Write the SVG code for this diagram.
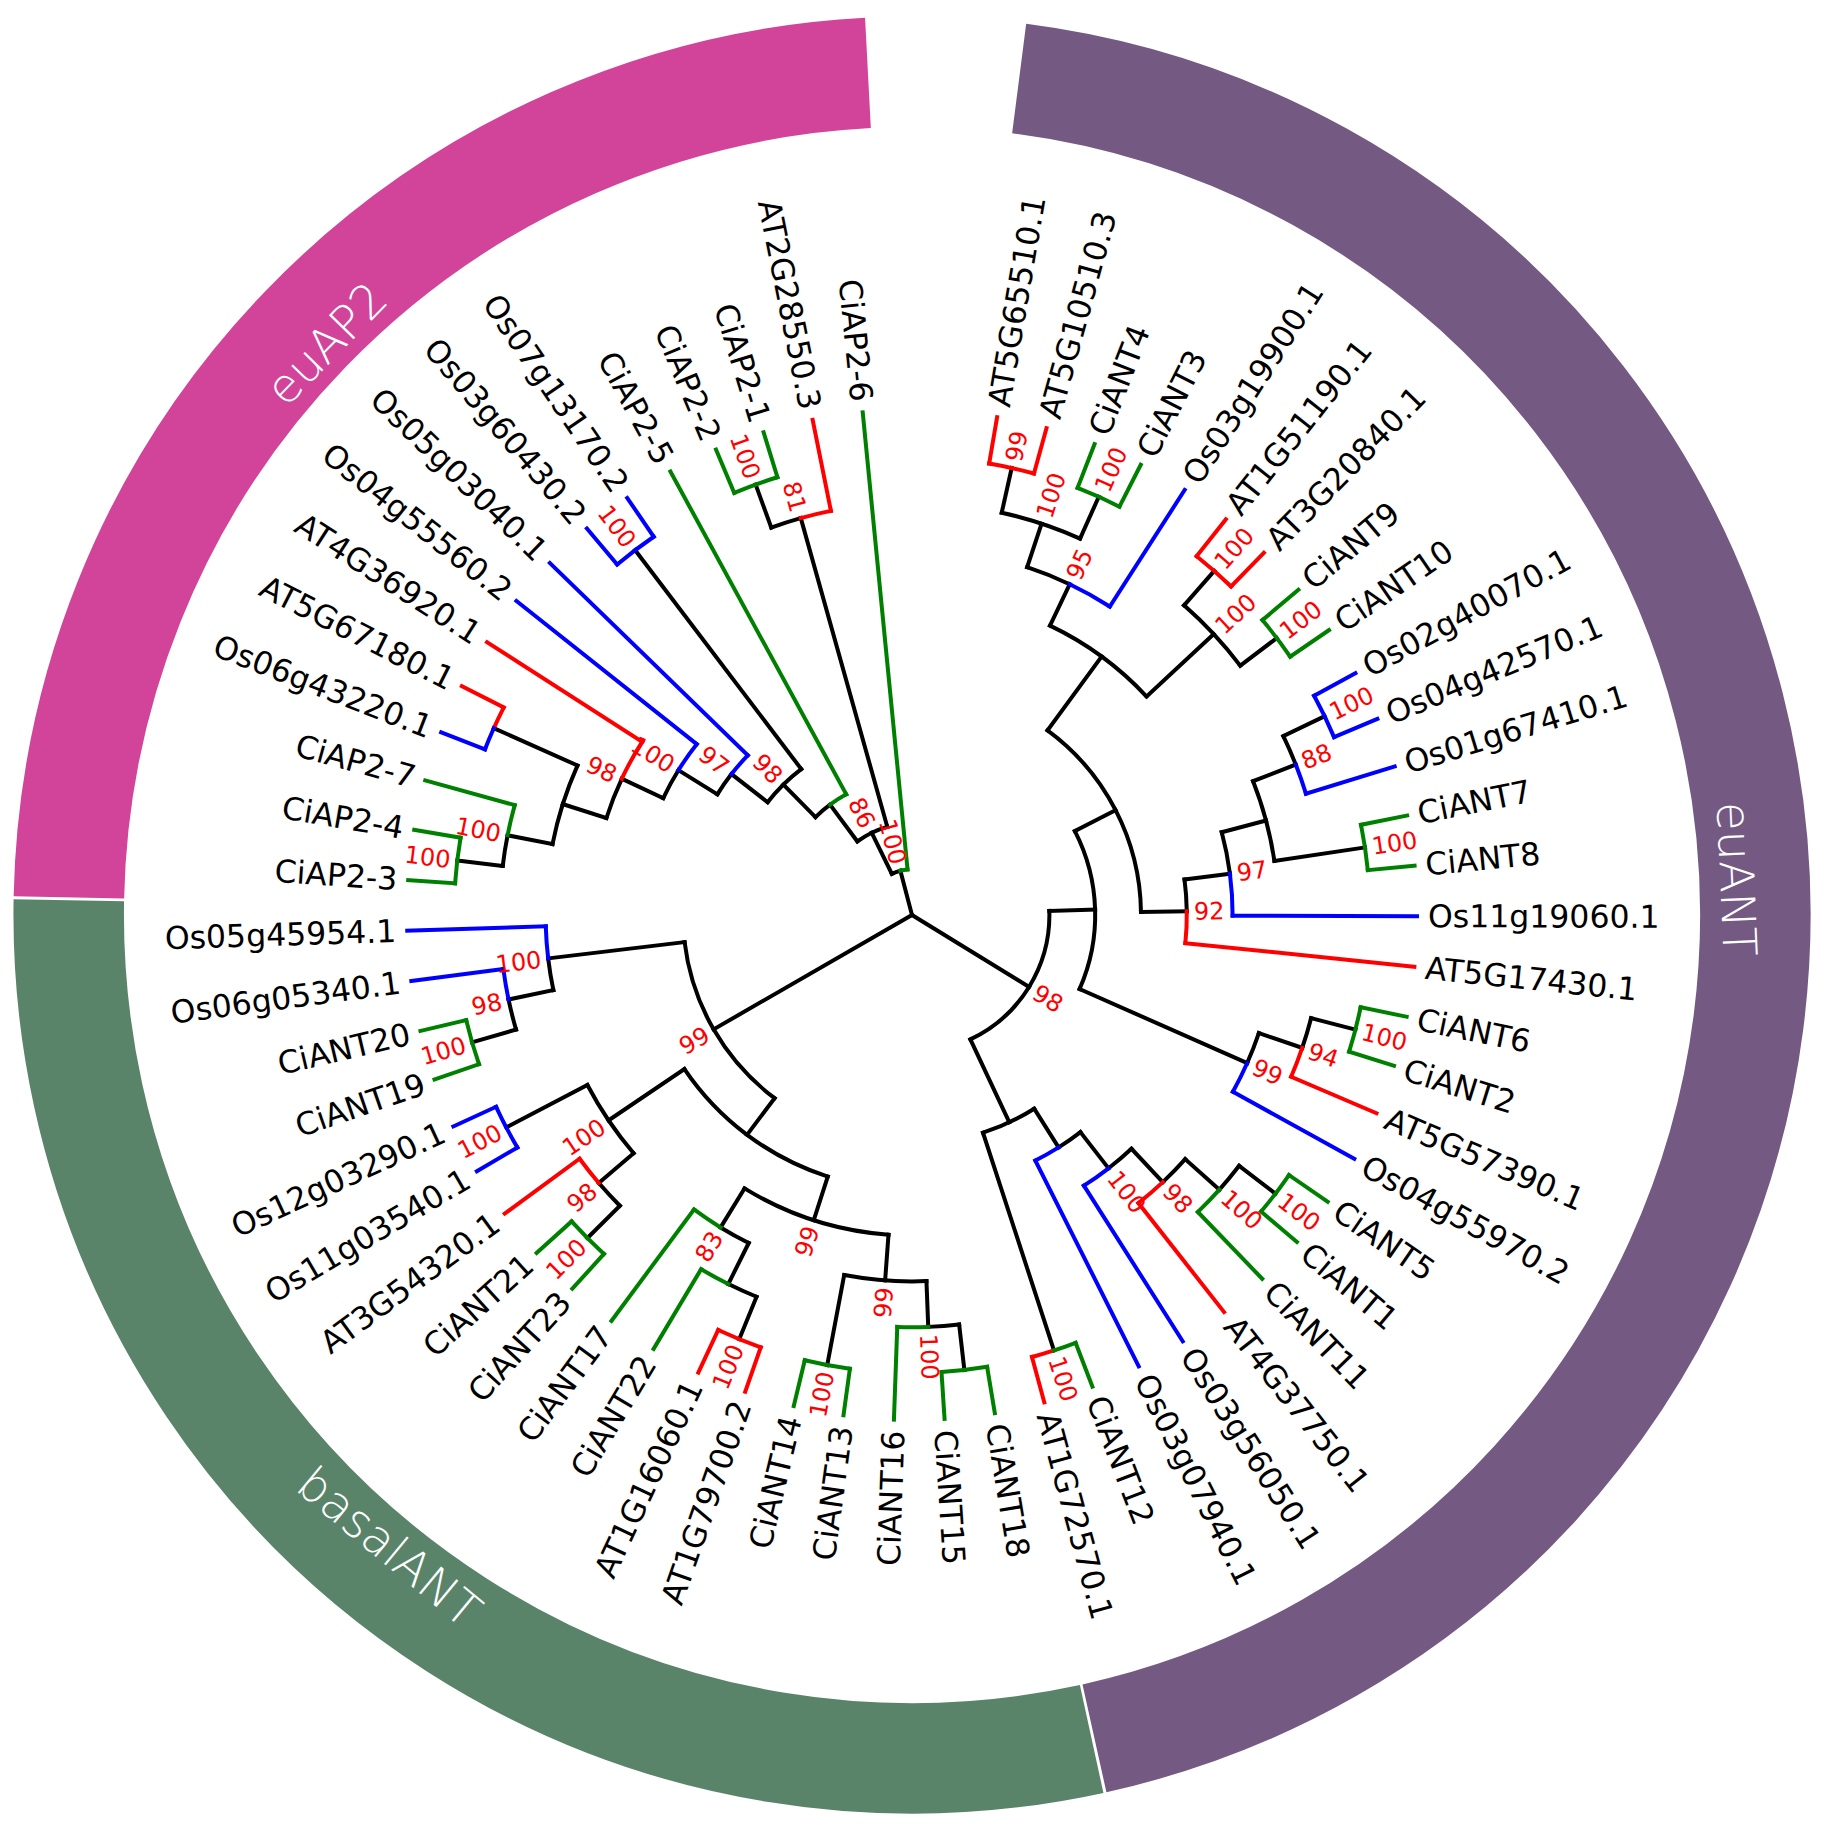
<svg xmlns="http://www.w3.org/2000/svg" width="1826" height="1825" viewBox="0 0 1826 1825">
<style>
.lab{font-family:"DejaVu Sans",Verdana,sans-serif;font-size:31.5px;fill:#000}
.bs{font-family:"DejaVu Sans",Verdana,sans-serif;font-size:24px;fill:#ff0000}
.cl{font-family:"DejaVu Sans",Verdana,sans-serif;font-size:47px;font-weight:200;fill:#ffffff}
.e{text-anchor:end}
#connectors circle,#connectors path{fill:none;stroke-width:4;stroke-linecap:square}
</style>
<rect width="1826" height="1825" fill="#ffffff"/>
<g transform="translate(912,915)">
<g id="clades" fill="none" stroke-width="110.5">
<circle id="ring-euANT" r="843.3" pathLength="360" stroke="#745A82" stroke-dasharray="160.2 720" transform="rotate(-82.7)"/>
<circle id="ring-basalANT" r="843.3" pathLength="360" stroke="#5A8469" stroke-dasharray="103.3 720" transform="rotate(77.7)"/>
<circle id="ring-euAP2" r="843.3" pathLength="360" stroke="#D2449A" stroke-dasharray="85.8 720" transform="rotate(181.2)"/>
</g>
<g id="clade-labels">
<text class="cl" transform="rotate(314.3)" y="-802" text-anchor="middle">euAP2</text>
<text class="cl" transform="rotate(87.5)" y="-809" text-anchor="middle">euANT</text>
<text class="cl" transform="rotate(39.6)" y="836.5" text-anchor="middle">basalANT</text>
</g>
<g id="connectors">
<g stroke="#000000">
<circle r="412.2" pathLength="360" stroke-dasharray="11.49 720" transform="rotate(-77.4275)"/>
<circle r="366.4" pathLength="360" stroke-dasharray="7.181 720" transform="rotate(-71.6825)"/>
<circle r="412.2" pathLength="360" stroke-dasharray="11.49 720" transform="rotate(-48.7025)"/>
<circle r="320.6" pathLength="360" stroke-dasharray="21.544 720" transform="rotate(-64.5013)"/>
<circle r="412.2" pathLength="360" stroke-dasharray="4.309 720" transform="rotate(-25.7225)"/>
<circle r="366.4" pathLength="360" stroke-dasharray="12.927 720" transform="rotate(-21.414)"/>
<circle r="320.6" pathLength="360" stroke-dasharray="7.54 720" transform="rotate(-14.9506)"/>
<circle r="274.8" pathLength="360" stroke-dasharray="6.643 720" transform="rotate(-7.4103)"/>
<circle r="229" pathLength="360" stroke-dasharray="52.962 720" transform="rotate(-53.7294)"/>
<circle r="412.2" pathLength="360" stroke-dasharray="4.309 720" transform="rotate(14.4925)"/>
<circle r="366.4" pathLength="360" stroke-dasharray="5.027 720" transform="rotate(18.801)"/>
<circle r="183.2" pathLength="360" stroke-dasharray="51.077 720" transform="rotate(-27.2485)"/>
<circle r="412.2" pathLength="360" stroke-dasharray="4.309 720" transform="rotate(37.4725)"/>
<circle r="366.4" pathLength="360" stroke-dasharray="5.027 720" transform="rotate(41.781)"/>
<circle r="320.6" pathLength="360" stroke-dasharray="5.386 720" transform="rotate(46.808)"/>
<circle r="274.8" pathLength="360" stroke-dasharray="5.566 720" transform="rotate(52.194)"/>
<circle r="229" pathLength="360" stroke-dasharray="14.183 720" transform="rotate(57.7595)"/>
<circle r="137.4" pathLength="360" stroke-dasharray="66.561 720" transform="rotate(-1.71)"/>
<circle r="412.2" pathLength="360" stroke-dasharray="4.309 720" transform="rotate(83.4325)"/>
<circle r="366.4" pathLength="360" stroke-dasharray="12.927 720" transform="rotate(87.741)"/>
<circle r="412.2" pathLength="360" stroke-dasharray="4.309 720" transform="rotate(112.1575)"/>
<circle r="366.4" pathLength="360" stroke-dasharray="5.027 720" transform="rotate(116.466)"/>
<circle r="320.6" pathLength="360" stroke-dasharray="27.289 720" transform="rotate(94.204)"/>
<circle r="412.2" pathLength="360" stroke-dasharray="4.309 720" transform="rotate(135.1375)"/>
<circle r="366.4" pathLength="360" stroke-dasharray="12.927 720" transform="rotate(139.446)"/>
<circle r="274.8" pathLength="360" stroke-dasharray="38.06 720" transform="rotate(107.849)"/>
<circle r="412.2" pathLength="360" stroke-dasharray="4.309 720" transform="rotate(163.8625)"/>
<circle r="366.4" pathLength="360" stroke-dasharray="5.027 720" transform="rotate(168.171)"/>
<circle r="229" pathLength="360" stroke-dasharray="46.319 720" transform="rotate(126.879)"/>
<circle r="412.2" pathLength="360" stroke-dasharray="4.309 720" transform="rotate(186.8425)"/>
<circle r="366.4" pathLength="360" stroke-dasharray="12.927 720" transform="rotate(191.151)"/>
<circle r="320.6" pathLength="360" stroke-dasharray="7.541 720" transform="rotate(197.614)"/>
<circle r="274.8" pathLength="360" stroke-dasharray="6.643 720" transform="rotate(205.155)"/>
<circle r="229" pathLength="360" stroke-dasharray="6.193 720" transform="rotate(211.798)"/>
<circle r="183.2" pathLength="360" stroke-dasharray="14.812 720" transform="rotate(217.991)"/>
<circle r="137.4" pathLength="360" stroke-dasharray="8.011 720" transform="rotate(225.397)"/>
<circle r="412.2" pathLength="360" stroke-dasharray="4.309 720" transform="rotate(250.0375)"/>
<circle r="91.6" pathLength="360" stroke-dasharray="20.938 720" transform="rotate(233.408)"/>
<circle r="45.8" pathLength="360" stroke-dasharray="11.411 720" transform="rotate(243.877)"/>
<path d="M412.2 0H458" transform="rotate(-77.4275)"/>
<path d="M412.2 0H458" transform="rotate(-65.9375)"/>
<path d="M366.4 0H412.2" transform="rotate(-71.6825)"/>
<path d="M412.2 0H458" transform="rotate(-48.7025)"/>
<path d="M412.2 0H458" transform="rotate(-37.2125)"/>
<path d="M320.6 0H366.4" transform="rotate(-64.5013)"/>
<path d="M320.6 0H412.2" transform="rotate(-42.9575)"/>
<path d="M412.2 0H458" transform="rotate(-25.7225)"/>
<path d="M366.4 0H412.2" transform="rotate(-21.414)"/>
<path d="M366.4 0H458" transform="rotate(-8.4875)"/>
<path d="M320.6 0H366.4" transform="rotate(-14.9506)"/>
<path d="M274.8 0H320.6" transform="rotate(-7.4103)"/>
<path d="M229 0H320.6" transform="rotate(-53.7294)"/>
<path d="M229 0H274.8" transform="rotate(-0.7676)"/>
<path d="M412.2 0H458" transform="rotate(14.4925)"/>
<path d="M366.4 0H412.2" transform="rotate(18.801)"/>
<path d="M183.2 0H229" transform="rotate(-27.2485)"/>
<path d="M183.2 0H366.4" transform="rotate(23.828)"/>
<path d="M412.2 0H458" transform="rotate(37.4725)"/>
<path d="M366.4 0H412.2" transform="rotate(41.781)"/>
<path d="M320.6 0H366.4" transform="rotate(46.808)"/>
<path d="M274.8 0H320.6" transform="rotate(52.194)"/>
<path d="M229 0H274.8" transform="rotate(57.7595)"/>
<path d="M229 0H458" transform="rotate(71.9425)"/>
<path d="M137.4 0H183.2" transform="rotate(-1.71)"/>
<path d="M137.4 0H229" transform="rotate(64.851)"/>
<path d="M0 0H137.4" transform="rotate(31.57)"/>
<path d="M412.2 0H458" transform="rotate(83.4325)"/>
<path d="M366.4 0H412.2" transform="rotate(87.741)"/>
<path d="M366.4 0H458" transform="rotate(100.6675)"/>
<path d="M412.2 0H458" transform="rotate(112.1575)"/>
<path d="M366.4 0H412.2" transform="rotate(116.466)"/>
<path d="M320.6 0H366.4" transform="rotate(94.204)"/>
<path d="M320.6 0H366.4" transform="rotate(121.493)"/>
<path d="M412.2 0H458" transform="rotate(135.1375)"/>
<path d="M366.4 0H412.2" transform="rotate(139.446)"/>
<path d="M366.4 0H458" transform="rotate(152.3725)"/>
<path d="M274.8 0H320.6" transform="rotate(107.849)"/>
<path d="M274.8 0H366.4" transform="rotate(145.909)"/>
<path d="M229 0H274.8" transform="rotate(126.879)"/>
<path d="M412.2 0H458" transform="rotate(163.8625)"/>
<path d="M366.4 0H412.2" transform="rotate(168.171)"/>
<path d="M229 0H366.4" transform="rotate(173.198)"/>
<path d="M0 0H229" transform="rotate(150.039)"/>
<path d="M412.2 0H458" transform="rotate(186.8425)"/>
<path d="M366.4 0H412.2" transform="rotate(191.151)"/>
<path d="M366.4 0H458" transform="rotate(204.0775)"/>
<path d="M320.6 0H366.4" transform="rotate(197.614)"/>
<path d="M274.8 0H320.6" transform="rotate(205.155)"/>
<path d="M229 0H274.8" transform="rotate(211.798)"/>
<path d="M183.2 0H229" transform="rotate(217.991)"/>
<path d="M183.2 0H458" transform="rotate(232.8025)"/>
<path d="M137.4 0H183.2" transform="rotate(225.397)"/>
<path d="M91.6 0H137.4" transform="rotate(233.408)"/>
<path d="M412.2 0H458" transform="rotate(250.0375)"/>
<path d="M91.6 0H412.2" transform="rotate(254.346)"/>
<path d="M45.8 0H91.6" transform="rotate(243.877)"/>
<path d="M0 0H45.8" transform="rotate(255.288)"/>
</g>
<g stroke="#ff0000">
<circle r="458" pathLength="360" stroke-dasharray="5.745 720" transform="rotate(-80.3)"/>
<circle r="458" pathLength="360" stroke-dasharray="5.745 720" transform="rotate(-51.575)"/>
<circle r="274.8" pathLength="360" stroke-dasharray="6.643 720" transform="rotate(-0.7676)"/>
<circle r="412.2" pathLength="360" stroke-dasharray="4.309 720" transform="rotate(18.801)"/>
<circle r="366.4" pathLength="360" stroke-dasharray="5.027 720" transform="rotate(46.808)"/>
<circle r="458" pathLength="360" stroke-dasharray="2.8725 720" transform="rotate(71.9425)"/>
<circle r="458" pathLength="360" stroke-dasharray="5.745 720" transform="rotate(109.285)"/>
<circle r="412.2" pathLength="360" stroke-dasharray="4.309 720" transform="rotate(139.446)"/>
<circle r="458" pathLength="360" stroke-dasharray="2.8725 720" transform="rotate(204.0775)"/>
<circle r="320.6" pathLength="360" stroke-dasharray="7.54 720" transform="rotate(205.155)"/>
<circle r="412.2" pathLength="360" stroke-dasharray="4.309 720" transform="rotate(254.346)"/>
<path d="M458 0H505" transform="rotate(-80.3)"/>
<path d="M458 0H505" transform="rotate(-74.555)"/>
<path d="M458 0H505" transform="rotate(-51.575)"/>
<path d="M458 0H505" transform="rotate(-45.83)"/>
<path d="M274.8 0H505" transform="rotate(5.875)"/>
<path d="M412.2 0H505" transform="rotate(23.11)"/>
<path d="M366.4 0H505" transform="rotate(51.835)"/>
<path d="M458 0H505" transform="rotate(74.815)"/>
<path d="M458 0H505" transform="rotate(109.285)"/>
<path d="M458 0H505" transform="rotate(115.03)"/>
<path d="M412.2 0H505" transform="rotate(143.755)"/>
<path d="M458 0H505" transform="rotate(206.95)"/>
<path d="M320.6 0H505" transform="rotate(212.695)"/>
<path d="M412.2 0H505" transform="rotate(258.655)"/>
</g>
<g stroke="#008000">
<circle r="458" pathLength="360" stroke-dasharray="5.745 720" transform="rotate(-68.81)"/>
<circle r="458" pathLength="360" stroke-dasharray="5.745 720" transform="rotate(-40.085)"/>
<circle r="458" pathLength="360" stroke-dasharray="5.745 720" transform="rotate(-11.36)"/>
<circle r="458" pathLength="360" stroke-dasharray="5.745 720" transform="rotate(11.62)"/>
<circle r="458" pathLength="360" stroke-dasharray="5.745 720" transform="rotate(34.6)"/>
<circle r="412.2" pathLength="360" stroke-dasharray="4.309 720" transform="rotate(41.781)"/>
<circle r="458" pathLength="360" stroke-dasharray="2.8725 720" transform="rotate(69.07)"/>
<circle r="458" pathLength="360" stroke-dasharray="5.745 720" transform="rotate(80.56)"/>
<circle r="412.2" pathLength="360" stroke-dasharray="4.309 720" transform="rotate(87.741)"/>
<circle r="458" pathLength="360" stroke-dasharray="5.745 720" transform="rotate(97.795)"/>
<circle r="412.2" pathLength="360" stroke-dasharray="4.309 720" transform="rotate(116.466)"/>
<circle r="366.4" pathLength="360" stroke-dasharray="5.027 720" transform="rotate(121.493)"/>
<circle r="458" pathLength="360" stroke-dasharray="5.745 720" transform="rotate(132.265)"/>
<circle r="458" pathLength="360" stroke-dasharray="5.745 720" transform="rotate(160.99)"/>
<circle r="458" pathLength="360" stroke-dasharray="5.745 720" transform="rotate(183.97)"/>
<circle r="412.2" pathLength="360" stroke-dasharray="4.309 720" transform="rotate(191.151)"/>
<circle r="137.4" pathLength="360" stroke-dasharray="8.012 720" transform="rotate(233.408)"/>
<circle r="458" pathLength="360" stroke-dasharray="5.745 720" transform="rotate(247.165)"/>
<circle r="45.8" pathLength="360" stroke-dasharray="9.112 720" transform="rotate(255.288)"/>
<path d="M458 0H505" transform="rotate(-68.81)"/>
<path d="M458 0H505" transform="rotate(-63.065)"/>
<path d="M458 0H505" transform="rotate(-40.085)"/>
<path d="M458 0H505" transform="rotate(-34.34)"/>
<path d="M458 0H505" transform="rotate(-11.36)"/>
<path d="M458 0H505" transform="rotate(-5.615)"/>
<path d="M458 0H505" transform="rotate(11.62)"/>
<path d="M458 0H505" transform="rotate(17.365)"/>
<path d="M458 0H505" transform="rotate(34.6)"/>
<path d="M458 0H505" transform="rotate(40.345)"/>
<path d="M412.2 0H505" transform="rotate(46.09)"/>
<path d="M458 0H505" transform="rotate(69.07)"/>
<path d="M458 0H505" transform="rotate(80.56)"/>
<path d="M458 0H505" transform="rotate(86.305)"/>
<path d="M412.2 0H505" transform="rotate(92.05)"/>
<path d="M458 0H505" transform="rotate(97.795)"/>
<path d="M458 0H505" transform="rotate(103.54)"/>
<path d="M412.2 0H505" transform="rotate(120.775)"/>
<path d="M366.4 0H505" transform="rotate(126.52)"/>
<path d="M458 0H505" transform="rotate(132.265)"/>
<path d="M458 0H505" transform="rotate(138.01)"/>
<path d="M458 0H505" transform="rotate(160.99)"/>
<path d="M458 0H505" transform="rotate(166.735)"/>
<path d="M458 0H505" transform="rotate(183.97)"/>
<path d="M458 0H505" transform="rotate(189.715)"/>
<path d="M412.2 0H505" transform="rotate(195.46)"/>
<path d="M137.4 0H505" transform="rotate(241.42)"/>
<path d="M458 0H505" transform="rotate(247.165)"/>
<path d="M458 0H505" transform="rotate(252.91)"/>
<path d="M45.8 0H505" transform="rotate(264.4)"/>
</g>
<g stroke="#0000ff">
<circle r="366.4" pathLength="360" stroke-dasharray="7.181 720" transform="rotate(-64.5013)"/>
<circle r="458" pathLength="360" stroke-dasharray="5.745 720" transform="rotate(-28.595)"/>
<circle r="412.2" pathLength="360" stroke-dasharray="4.309 720" transform="rotate(-21.414)"/>
<circle r="320.6" pathLength="360" stroke-dasharray="7.54 720" transform="rotate(-7.4103)"/>
<circle r="366.4" pathLength="360" stroke-dasharray="5.027 720" transform="rotate(23.828)"/>
<circle r="320.6" pathLength="360" stroke-dasharray="5.386 720" transform="rotate(52.194)"/>
<circle r="274.8" pathLength="360" stroke-dasharray="5.566 720" transform="rotate(57.7595)"/>
<circle r="458" pathLength="360" stroke-dasharray="5.745 720" transform="rotate(149.5)"/>
<circle r="412.2" pathLength="360" stroke-dasharray="4.309 720" transform="rotate(168.171)"/>
<circle r="366.4" pathLength="360" stroke-dasharray="5.027 720" transform="rotate(173.198)"/>
<circle r="458" pathLength="360" stroke-dasharray="2.8725 720" transform="rotate(201.205)"/>
<circle r="274.8" pathLength="360" stroke-dasharray="6.642 720" transform="rotate(211.798)"/>
<circle r="229" pathLength="360" stroke-dasharray="6.194 720" transform="rotate(217.991)"/>
<circle r="458" pathLength="360" stroke-dasharray="5.745 720" transform="rotate(229.93)"/>
<path d="M366.4 0H505" transform="rotate(-57.32)"/>
<path d="M458 0H505" transform="rotate(-28.595)"/>
<path d="M458 0H505" transform="rotate(-22.85)"/>
<path d="M412.2 0H505" transform="rotate(-17.105)"/>
<path d="M320.6 0H505" transform="rotate(0.13)"/>
<path d="M366.4 0H505" transform="rotate(28.855)"/>
<path d="M320.6 0H505" transform="rotate(57.58)"/>
<path d="M274.8 0H505" transform="rotate(63.325)"/>
<path d="M458 0H505" transform="rotate(149.5)"/>
<path d="M458 0H505" transform="rotate(155.245)"/>
<path d="M412.2 0H505" transform="rotate(172.48)"/>
<path d="M366.4 0H505" transform="rotate(178.225)"/>
<path d="M458 0H505" transform="rotate(201.205)"/>
<path d="M274.8 0H505" transform="rotate(218.44)"/>
<path d="M229 0H505" transform="rotate(224.185)"/>
<path d="M458 0H505" transform="rotate(229.93)"/>
<path d="M458 0H505" transform="rotate(235.675)"/>
</g>
</g>
<g id="leaves" class="lab">
<g id="leaf-AT5G65510.1"><text transform="rotate(-80.3)" x="516" y="11">AT5G65510.1</text></g>
<g id="leaf-AT5G10510.3"><text transform="rotate(-74.555)" x="516" y="11">AT5G10510.3</text></g>
<g id="leaf-CiANT4"><text transform="rotate(-68.81)" x="516" y="11">CiANT4</text></g>
<g id="leaf-CiANT3"><text transform="rotate(-63.065)" x="516" y="11">CiANT3</text></g>
<g id="leaf-Os03g19900.1"><text transform="rotate(-57.32)" x="516" y="11">Os03g19900.1</text></g>
<g id="leaf-AT1G51190.1"><text transform="rotate(-51.575)" x="516" y="11">AT1G51190.1</text></g>
<g id="leaf-AT3G20840.1"><text transform="rotate(-45.83)" x="516" y="11">AT3G20840.1</text></g>
<g id="leaf-CiANT9"><text transform="rotate(-40.085)" x="516" y="11">CiANT9</text></g>
<g id="leaf-CiANT10"><text transform="rotate(-34.34)" x="516" y="11">CiANT10</text></g>
<g id="leaf-Os02g40070.1"><text transform="rotate(-28.595)" x="516" y="11">Os02g40070.1</text></g>
<g id="leaf-Os04g42570.1"><text transform="rotate(-22.85)" x="516" y="11">Os04g42570.1</text></g>
<g id="leaf-Os01g67410.1"><text transform="rotate(-17.105)" x="516" y="11">Os01g67410.1</text></g>
<g id="leaf-CiANT7"><text transform="rotate(-11.36)" x="516" y="11">CiANT7</text></g>
<g id="leaf-CiANT8"><text transform="rotate(-5.615)" x="516" y="11">CiANT8</text></g>
<g id="leaf-Os11g19060.1"><text transform="rotate(0.13)" x="516" y="11">Os11g19060.1</text></g>
<g id="leaf-AT5G17430.1"><text transform="rotate(5.875)" x="516" y="11">AT5G17430.1</text></g>
<g id="leaf-CiANT6"><text transform="rotate(11.62)" x="516" y="11">CiANT6</text></g>
<g id="leaf-CiANT2"><text transform="rotate(17.365)" x="516" y="11">CiANT2</text></g>
<g id="leaf-AT5G57390.1"><text transform="rotate(23.11)" x="516" y="11">AT5G57390.1</text></g>
<g id="leaf-Os04g55970.2"><text transform="rotate(28.855)" x="516" y="11">Os04g55970.2</text></g>
<g id="leaf-CiANT5"><text transform="rotate(34.6)" x="516" y="11">CiANT5</text></g>
<g id="leaf-CiANT1"><text transform="rotate(40.345)" x="516" y="11">CiANT1</text></g>
<g id="leaf-CiANT11"><text transform="rotate(46.09)" x="516" y="11">CiANT11</text></g>
<g id="leaf-AT4G37750.1"><text transform="rotate(51.835)" x="516" y="11">AT4G37750.1</text></g>
<g id="leaf-Os03g56050.1"><text transform="rotate(57.58)" x="516" y="11">Os03g56050.1</text></g>
<g id="leaf-Os03g07940.1"><text transform="rotate(63.325)" x="516" y="11">Os03g07940.1</text></g>
<g id="leaf-CiANT12"><text transform="rotate(69.07)" x="516" y="11">CiANT12</text></g>
<g id="leaf-AT1G72570.1"><text transform="rotate(74.815)" x="516" y="11">AT1G72570.1</text></g>
<g id="leaf-CiANT18"><text transform="rotate(80.56)" x="516" y="11">CiANT18</text></g>
<g id="leaf-CiANT15"><text transform="rotate(86.305)" x="516" y="11">CiANT15</text></g>
<g id="leaf-CiANT16"><text class="e" transform="rotate(-87.95)" x="-516" y="11">CiANT16</text></g>
<g id="leaf-CiANT13"><text class="e" transform="rotate(-82.205)" x="-516" y="11">CiANT13</text></g>
<g id="leaf-CiANT14"><text class="e" transform="rotate(-76.46)" x="-516" y="11">CiANT14</text></g>
<g id="leaf-AT1G79700.2"><text class="e" transform="rotate(-70.715)" x="-516" y="11">AT1G79700.2</text></g>
<g id="leaf-AT1G16060.1"><text class="e" transform="rotate(-64.97)" x="-516" y="11">AT1G16060.1</text></g>
<g id="leaf-CiANT22"><text class="e" transform="rotate(-59.225)" x="-516" y="11">CiANT22</text></g>
<g id="leaf-CiANT17"><text class="e" transform="rotate(-53.48)" x="-516" y="11">CiANT17</text></g>
<g id="leaf-CiANT23"><text class="e" transform="rotate(-47.735)" x="-516" y="11">CiANT23</text></g>
<g id="leaf-CiANT21"><text class="e" transform="rotate(-41.99)" x="-516" y="11">CiANT21</text></g>
<g id="leaf-AT3G54320.1"><text class="e" transform="rotate(-36.245)" x="-516" y="11">AT3G54320.1</text></g>
<g id="leaf-Os11g03540.1"><text class="e" transform="rotate(-30.5)" x="-516" y="11">Os11g03540.1</text></g>
<g id="leaf-Os12g03290.1"><text class="e" transform="rotate(-24.755)" x="-516" y="11">Os12g03290.1</text></g>
<g id="leaf-CiANT19"><text class="e" transform="rotate(-19.01)" x="-516" y="11">CiANT19</text></g>
<g id="leaf-CiANT20"><text class="e" transform="rotate(-13.265)" x="-516" y="11">CiANT20</text></g>
<g id="leaf-Os06g05340.1"><text class="e" transform="rotate(-7.52)" x="-516" y="11">Os06g05340.1</text></g>
<g id="leaf-Os05g45954.1"><text class="e" transform="rotate(-1.775)" x="-516" y="11">Os05g45954.1</text></g>
<g id="leaf-CiAP2-3"><text class="e" transform="rotate(3.97)" x="-516" y="11">CiAP2-3</text></g>
<g id="leaf-CiAP2-4"><text class="e" transform="rotate(9.715)" x="-516" y="11">CiAP2-4</text></g>
<g id="leaf-CiAP2-7"><text class="e" transform="rotate(15.46)" x="-516" y="11">CiAP2-7</text></g>
<g id="leaf-Os06g43220.1"><text class="e" transform="rotate(21.205)" x="-516" y="11">Os06g43220.1</text></g>
<g id="leaf-AT5G67180.1"><text class="e" transform="rotate(26.95)" x="-516" y="11">AT5G67180.1</text></g>
<g id="leaf-AT4G36920.1"><text class="e" transform="rotate(32.695)" x="-516" y="11">AT4G36920.1</text></g>
<g id="leaf-Os04g55560.2"><text class="e" transform="rotate(38.44)" x="-516" y="11">Os04g55560.2</text></g>
<g id="leaf-Os05g03040.1"><text class="e" transform="rotate(44.185)" x="-516" y="11">Os05g03040.1</text></g>
<g id="leaf-Os03g60430.2"><text class="e" transform="rotate(49.93)" x="-516" y="11">Os03g60430.2</text></g>
<g id="leaf-Os07g13170.2"><text class="e" transform="rotate(55.675)" x="-516" y="11">Os07g13170.2</text></g>
<g id="leaf-CiAP2-5"><text class="e" transform="rotate(61.42)" x="-516" y="11">CiAP2-5</text></g>
<g id="leaf-CiAP2-2"><text class="e" transform="rotate(67.165)" x="-516" y="11">CiAP2-2</text></g>
<g id="leaf-CiAP2-1"><text class="e" transform="rotate(72.91)" x="-516" y="11">CiAP2-1</text></g>
<g id="leaf-AT2G28550.3"><text class="e" transform="rotate(78.655)" x="-516" y="11">AT2G28550.3</text></g>
<g id="leaf-CiAP2-6"><text class="e" transform="rotate(84.4)" x="-516" y="11">CiAP2-6</text></g>
</g>
<g id="support" class="bs">
<text transform="rotate(-77.4275)" x="465" y="8.5">99</text>
<text transform="rotate(-71.6825)" x="419.2" y="8.5">100</text>
<text transform="rotate(-65.9375)" x="465" y="8.5">100</text>
<text transform="rotate(-64.5013)" x="373.4" y="8.5">95</text>
<text transform="rotate(-48.7025)" x="465" y="8.5">100</text>
<text transform="rotate(-42.9575)" x="419.2" y="8.5">100</text>
<text transform="rotate(-37.2125)" x="465" y="8.5">100</text>
<text transform="rotate(-25.7225)" x="465" y="8.5">100</text>
<text transform="rotate(-21.414)" x="419.2" y="8.5">88</text>
<text transform="rotate(-8.4875)" x="465" y="8.5">100</text>
<text transform="rotate(-7.4103)" x="327.6" y="8.5">97</text>
<text transform="rotate(-0.7676)" x="281.8" y="8.5">92</text>
<text transform="rotate(31.57)" x="144.4" y="8.5">98</text>
<text transform="rotate(14.4925)" x="465" y="8.5">100</text>
<text transform="rotate(18.801)" x="419.2" y="8.5">94</text>
<text transform="rotate(23.828)" x="373.4" y="8.5">99</text>
<text transform="rotate(37.4725)" x="465" y="8.5">100</text>
<text transform="rotate(41.781)" x="419.2" y="8.5">100</text>
<text transform="rotate(46.808)" x="373.4" y="8.5">98</text>
<text transform="rotate(52.194)" x="327.6" y="8.5">100</text>
<text transform="rotate(71.9425)" x="465" y="8.5">100</text>
<text transform="rotate(87.741)" x="419.2" y="8.5">100</text>
<text class="e" transform="rotate(-85.796)" x="-373.4" y="8.5">99</text>
<text class="e" transform="rotate(-79.3325)" x="-465" y="8.5">100</text>
<text class="e" transform="rotate(-72.151)" x="-327.6" y="8.5">99</text>
<text class="e" transform="rotate(-67.8425)" x="-465" y="8.5">100</text>
<text class="e" transform="rotate(-58.507)" x="-373.4" y="8.5">83</text>
<text class="e" transform="rotate(-44.8625)" x="-465" y="8.5">100</text>
<text class="e" transform="rotate(-40.554)" x="-419.2" y="8.5">98</text>
<text class="e" transform="rotate(-34.091)" x="-373.4" y="8.5">100</text>
<text class="e" transform="rotate(-29.961)" x="-236" y="8.5">99</text>
<text class="e" transform="rotate(-27.6275)" x="-465" y="8.5">100</text>
<text class="e" transform="rotate(-16.1375)" x="-465" y="8.5">100</text>
<text class="e" transform="rotate(-11.829)" x="-419.2" y="8.5">98</text>
<text class="e" transform="rotate(-6.802)" x="-373.4" y="8.5">100</text>
<text class="e" transform="rotate(6.8425)" x="-465" y="8.5">100</text>
<text class="e" transform="rotate(11.151)" x="-419.2" y="8.5">100</text>
<text class="e" transform="rotate(25.155)" x="-327.6" y="8.5">98</text>
<text class="e" transform="rotate(31.798)" x="-281.8" y="8.5">100</text>
<text class="e" transform="rotate(37.991)" x="-236" y="8.5">97</text>
<text class="e" transform="rotate(45.397)" x="-190.2" y="8.5">98</text>
<text class="e" transform="rotate(52.8025)" x="-465" y="8.5">100</text>
<text class="e" transform="rotate(63.877)" x="-98.6" y="8.5">86</text>
<text class="e" transform="rotate(70.0375)" x="-465" y="8.5">100</text>
<text class="e" transform="rotate(74.346)" x="-419.2" y="8.5">81</text>
<text class="e" transform="rotate(75.288)" x="-52.8" y="8.5">100</text>
</g>
</g>
</svg>
